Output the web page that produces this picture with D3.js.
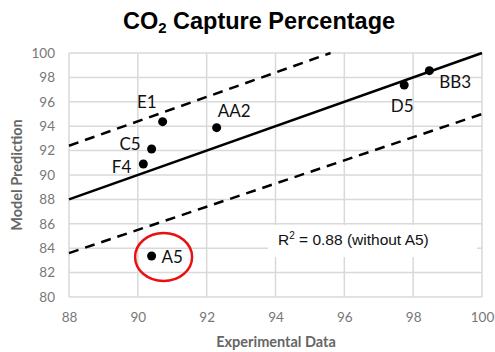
<!DOCTYPE html>
<html><head><meta charset="utf-8">
<script src="https://cdn.jsdelivr.net/npm/d3@7"></script>
<style>body{margin:0;background:#fff}svg{display:block}</style>
</head><body>
<svg id="c" width="495" height="352"></svg>
<script>
// ---- data ----
const names = ["E1","AA2","C5","F4","D5","BB3","A5"];
const experimental = [90.72, 92.29, 90.40, 90.16, 97.74, 98.47, 90.40];
const predicted = [94.37, 93.88, 92.13, 90.90, 97.38, 98.55, 83.36];
const fitLine = [[88, 88], [100, 100]];
const upperBound = [[88, 92.4], [95.6, 100]];
const lowerBound = [[88, 83.6], [100, 95.0]];
const xTicks = [88, 90, 92, 94, 96, 98, 100];
const yTicks = [80, 82, 84, 86, 88, 90, 92, 94, 96, 98, 100];
const outlier = "A5";
const annotation = "R\u00B2 = 0.88 (without A5)";

// label placement (pixel offsets, styling only)
const labelPos = {
  E1: {dx: -6, dy: -14, anchor: "end"},
  AA2: {dx: 1, dy: -11, anchor: "start"},
  C5: {dx: -11, dy: 1, anchor: "end"},
  F4: {dx: -12, dy: 9, anchor: "end"},
  D5: {dx: -2, dy: 27, anchor: "middle"},
  BB3: {dx: 10, dy: 17, anchor: "start"},
  A5: {dx: 10, dy: 7, anchor: "start"}
};

const svg = d3.select("#c");
const x = d3.scaleLinear().domain([88, 100]).range([69, 482]);
const y = d3.scaleLinear().domain([80, 100]).range([297, 53]);

// grid
const grid = svg.append("g").attr("stroke", "#d9d9d9").attr("stroke-width", 1.5);
grid.selectAll(".h").data(yTicks).join("line")
  .attr("x1", x(88)).attr("x2", x(100)).attr("y1", d => y(d)).attr("y2", d => y(d));
grid.selectAll(".v").data(xTicks).join("line")
  .attr("y1", y(80)).attr("y2", y(100)).attr("x1", d => x(d)).attr("x2", d => x(d));

// annotation background
svg.append("rect").attr("x", 268).attr("y", 225).attr("width", 209).attr("height", 32).attr("fill", "#fff");

// axes (tick labels only)
const tickFont = "Lato, 'Open Sans', sans-serif";
const xAxis = svg.append("g").attr("transform", `translate(0,${y(80)})`)
  .call(d3.axisBottom(x).tickValues(xTicks).tickSize(0).tickPadding(15));
const yAxis = svg.append("g").attr("transform", `translate(${x(88)},0)`)
  .call(d3.axisLeft(y).tickValues(yTicks).tickSize(0).tickPadding(14));
[xAxis, yAxis].forEach(a => {
  a.select(".domain").remove();
  a.selectAll("text").attr("fill", "#777").style("font-family", tickFont).style("font-size", "13.5px");
});

// lines
const line = d3.line().x(d => x(d[0])).y(d => y(d[1]));
svg.append("path").attr("d", line(fitLine)).attr("stroke", "#000").attr("stroke-width", 2.5).attr("fill", "none");
[upperBound, lowerBound].forEach(b => {
  svg.append("path").attr("d", line(b)).attr("stroke", "#000").attr("stroke-width", 2.5)
    .attr("stroke-dasharray", "10,7").attr("fill", "none");
});

// points
const pts = names.map((n, i) => ({n, ex: experimental[i], pr: predicted[i]}));
svg.selectAll("circle.pt").data(pts).join("circle").attr("class", "pt")
  .attr("cx", d => x(d.ex)).attr("cy", d => y(d.pr)).attr("r", 4.5).attr("fill", "#000");
svg.selectAll("text.lbl").data(pts).join("text").attr("class", "lbl")
  .attr("x", d => x(d.ex) + labelPos[d.n].dx).attr("y", d => y(d.pr) + labelPos[d.n].dy)
  .attr("text-anchor", d => labelPos[d.n].anchor)
  .style("font-family", tickFont).style("font-size", "17px").attr("fill", "#111")
  .text(d => d.n);

// outlier highlight
const o = pts.find(d => d.n === outlier);
svg.append("ellipse").attr("cx", x(o.ex) + 12).attr("cy", y(o.pr) + 1).attr("rx", 28.5).attr("ry", 24)
  .attr("fill", "none").attr("stroke", "#e8110f").attr("stroke-width", 2.5);

// annotation
const ann = svg.append("text").attr("x", 278).attr("y", 245)
  .style("font-family", "'Liberation Sans', Arial, sans-serif").style("font-size", "15.5px").attr("fill", "#111");
ann.append("tspan").text("R");
ann.append("tspan").text("2").style("font-size", "10px").attr("dy", -6);
ann.append("tspan").text(" = 0.88 (without A5)").attr("dy", 6);

// title
const t = svg.append("text").attr("x", 259).attr("y", 29).attr("text-anchor", "middle")
  .style("font-family", "'Liberation Sans', Arial, sans-serif").style("font-weight", "bold").style("font-size", "23.5px").attr("fill", "#000");
t.append("tspan").text("CO");
t.append("tspan").text("2").style("font-size", "15px").attr("dy", 4);
t.append("tspan").text(" Capture Percentage").attr("dy", -4);

// axis titles
svg.append("text").attr("x", 276).attr("y", 347).attr("text-anchor", "middle")
  .style("font-family", tickFont).style("font-weight", "bold").style("font-size", "14.5px").attr("fill", "#666")
  .text("Experimental Data");
svg.append("text").attr("transform", "translate(22,175) rotate(-90)").attr("text-anchor", "middle")
  .style("font-family", tickFont).style("font-weight", "bold").style("font-size", "14.5px").attr("fill", "#666")
  .text("Model Prediction");
</script>
</body></html>
